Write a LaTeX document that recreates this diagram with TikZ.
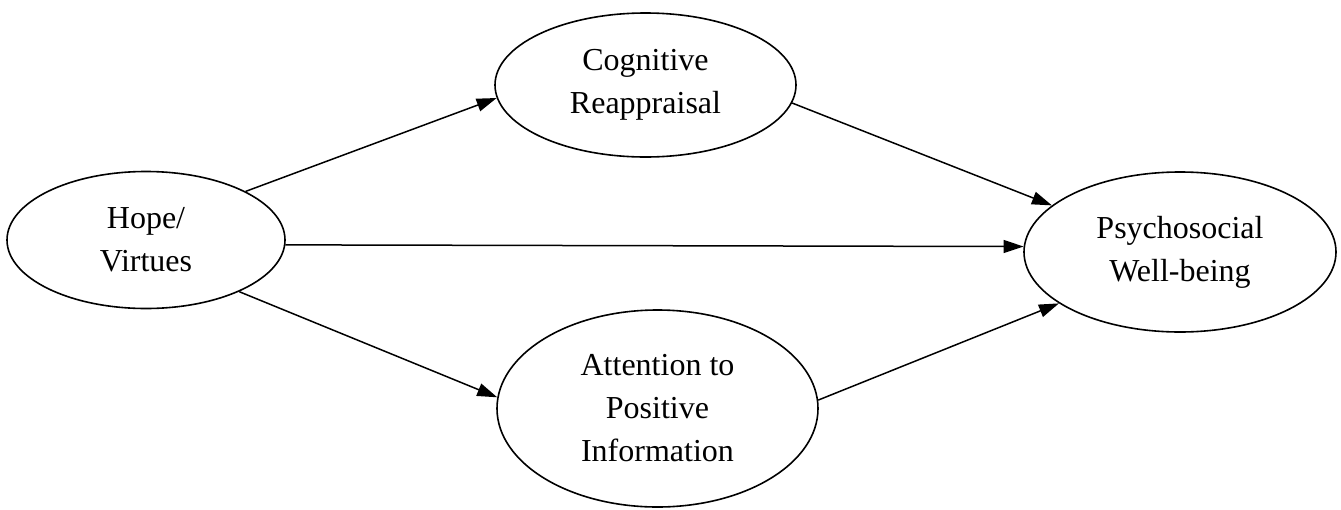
\documentclass[tikz,border=0pt]{standalone}
\usepackage{fontspec}
\setmainfont{Liberation Serif}
\usetikzlibrary{arrows.meta,shapes.geometric}
\begin{document}
\begin{tikzpicture}[x=1pt,y=-1pt,
  oval/.style={draw,ellipse,line width=1.6pt,inner sep=0pt,align=center,
    font=\fontsize{32}{43}\selectfont},
  link/.style={line width=1.5pt,-{Triangle[length=20pt,width=13pt]}}]
\useasboundingbox (0,0) rectangle (1341,509);
\node[oval,minimum width=278pt,minimum height=137pt] (hope) at (146,240) {Hope/\\Virtues};
\node[oval,minimum width=301pt,minimum height=144pt] (cr) at (645.5,85) {Cognitive\\Reappraisal};
\node[oval,minimum width=312pt,minimum height=160pt] (pw) at (1180,252) {Psychosocial\\Well-being};
\node[oval,minimum width=321pt,minimum height=197pt] (att) at (657.5,408.5) {Attention to\\Positive\\Information};
\draw[link] (hope.26) -- (cr.185.8);
\draw[link] (hope.-2.5) -- (pw.178);
\draw[link] (hope.-29.6) -- (att.176.3);
\draw[link] (cr.-7.2) -- (pw.160.7);
\draw[link] (att.3) -- (pw.203);
\end{tikzpicture}
\end{document}
